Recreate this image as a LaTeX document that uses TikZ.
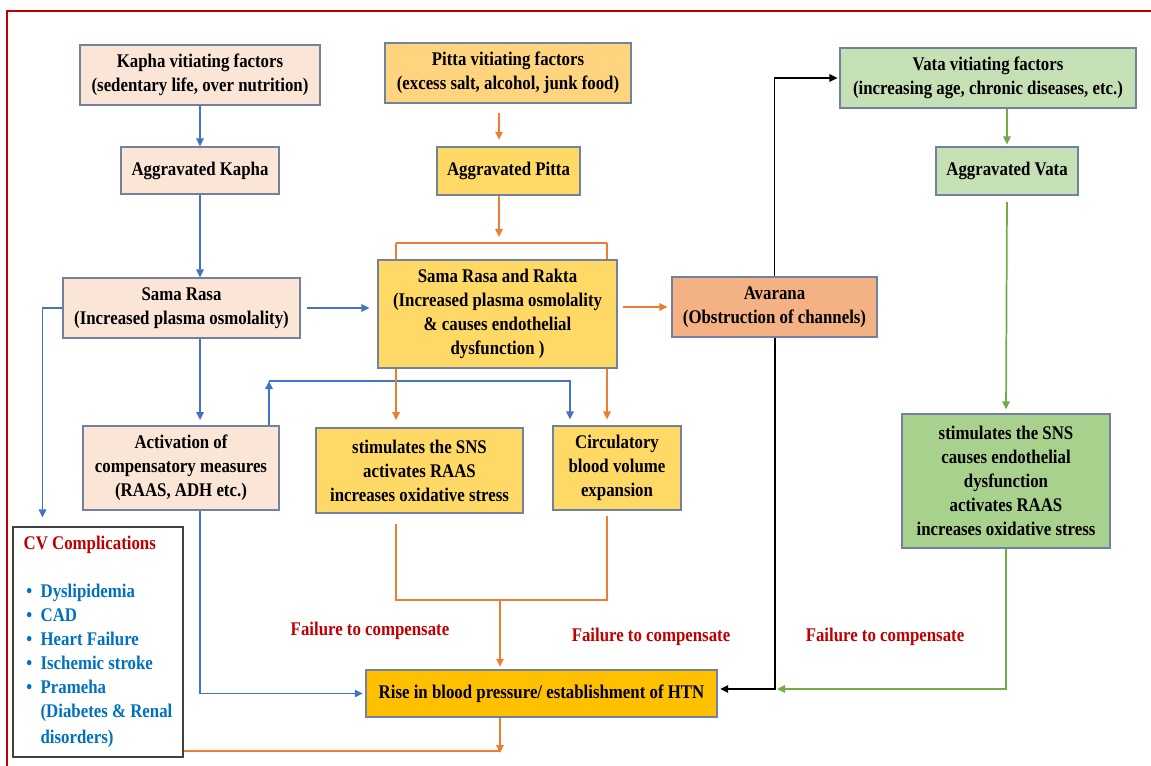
\documentclass[tikz,border=0pt]{standalone}
\usepackage{fontspec}
\setmainfont{Liberation Serif}[FakeStretch=0.87]
\usetikzlibrary{arrows.meta,calc}
\pgfdeclarelayer{bg}
\pgfsetlayers{bg,main}
\definecolor{kfill}{HTML}{FBE5D6}
\definecolor{pfillA}{HTML}{FFD47F}
\definecolor{pfill}{HTML}{FFD966}
\definecolor{rfill}{HTML}{FFC000}
\definecolor{afill}{HTML}{F4B183}
\definecolor{vfill}{HTML}{C5E0B4}
\definecolor{gfill}{HTML}{A9D18E}
\definecolor{bord}{HTML}{7281A0}
\definecolor{cblue}{HTML}{4472C4}
\definecolor{corange}{HTML}{ED7D31}
\definecolor{cgreen}{HTML}{70AD47}
\definecolor{cred}{HTML}{C00000}
\definecolor{itblue}{HTML}{0070C0}
\tikzset{
  box/.style={draw=bord, line width=0.8pt, align=center, inner sep=2pt,
    font=\bfseries\fontsize{14.5}{18}\selectfont},
  tipA/.style={-{Triangle[length=6pt,width=5.5pt]}},
  blueArrow/.style={draw=cblue, line width=1.3pt, tipA},
  orArrow/.style={draw=corange, line width=1.3pt, tipA},
  orLine/.style={draw=corange, line width=1.3pt},
  blkArrow/.style={draw=black, line width=1.3pt, tipA},
  grArrow/.style={draw=cgreen, line width=1.3pt, tipA},
  failLabel/.style={text=cred, font=\bfseries\fontsize{14.5}{18}\selectfont}
}
\newcommand{\bul}{\makebox[12.75pt][l]{\hspace{2pt}\textbullet}}
\newcommand{\nobul}{\makebox[12.75pt][l]{}}
\begin{document}
\begin{tikzpicture}[x=0.75pt,y=-0.75pt]
\useasboundingbox (0,0) rectangle (1151,766);
\draw[cred, line width=1.5pt] (7,766) -- (7,11) -- (1151,11);

% Kapha column
\node[box,fill=kfill,minimum width=180pt,minimum height=45pt] (kf) at (200,75) {Kapha vitiating factors\\(sedentary life, over nutrition)};
\node[box,fill=kfill,minimum width=118.5pt,minimum height=35.25pt] (ak) at (200,170.5) {Aggravated Kapha};
\node[box,fill=kfill,minimum width=177.75pt,minimum height=45pt] (sr) at (181.5,308) {Sama Rasa\\(Increased plasma osmolality)};
\node[box,fill=kfill,minimum width=147pt,minimum height=63pt] (act) at (181,468) {Activation of\\compensatory measures\\(RAAS, ADH etc.)};
\node[box,draw=black!75,fill=white,minimum width=127.5pt,minimum height=172.5pt,align=left] (cv) at (98,642) {%
\textcolor{cred}{CV Complications}\\[18pt]
\textcolor{itblue}{\bul Dyslipidemia}\\
\textcolor{itblue}{\bul CAD}\\
\textcolor{itblue}{\bul Heart Failure}\\
\textcolor{itblue}{\bul Ischemic stroke}\\
\textcolor{itblue}{\bul Prameha}\\
\textcolor{itblue}{\nobul(Diabetes \& Renal}\\[1.5pt]
\textcolor{itblue}{\nobul disorders)}};

% Pitta column
\node[box,fill=pfillA,minimum width=184.5pt,minimum height=45pt] (pf) at (508,73) {Pitta vitiating factors\\(excess salt, alcohol, junk food)};
\node[box,fill=pfill,minimum width=107.25pt,minimum height=36pt] (ap) at (508.5,171) {Aggravated Pitta};
\node[box,fill=pfill,minimum width=179.25pt,minimum height=81pt] (srr) at (497.5,314) {Sama Rasa and Rakta\\(Increased plasma osmolality\\\& causes endothelial\\dysfunction )};
\node[box,fill=pfill,minimum width=155.25pt,minimum height=63.75pt] (sns) at (419.5,470.5) {stimulates the SNS\\activates RAAS\\increases oxidative stress};
\node[box,fill=pfill,minimum width=96pt,minimum height=63pt] (circ) at (617,468) {Circulatory\\blood volume\\expansion};
\node[box,fill=rfill,minimum width=263.25pt,minimum height=35.25pt] (rise) at (541.5,693.5) {Rise in blood pressure/ establishment of HTN};

% Vata column
\node[box,fill=afill,minimum width=153.75pt,minimum height=45pt] (av) at (774.5,307) {Avarana\\(Obstruction of channels)};
\node[box,fill=vfill,minimum width=222pt,minimum height=45pt] (vf) at (988,78) {Vata vitiating factors\\(increasing age, chronic diseases, etc.)};
\node[box,fill=vfill,minimum width=106.5pt,minimum height=36pt] (agv) at (1007,171) {Aggravated Vata};
\node[box,fill=gfill,minimum width=156pt,minimum height=100.5pt] (gs) at (1006,481) {stimulates the SNS\\causes endothelial\\dysfunction\\activates RAAS\\increases oxidative stress};

% labels
\node[failLabel] (f1) at (370,631) {Failure to compensate};
\node[failLabel] (f2) at (651,637) {Failure to compensate};
\node[failLabel] (f3) at (885,637) {Failure to compensate};

% helper coordinates
\coordinate (fa) at (269,381);
\coordinate (fb) at (570,381);
\coordinate (pc) at (499,0);
\coordinate (bk) at (499,243);
\coordinate (bkL) at (396,243);
\coordinate (bkR) at (607,243);
\coordinate (jn) at (500,600);
\coordinate (cvj) at (500,751);
\coordinate (jb) at (775,689);

\begin{pgfonlayer}{bg}
% blue
\draw[blueArrow] (kf) -- (ak);
\draw[blueArrow] (ak) -- (sr.north -| ak);
\draw[blueArrow, shorten <=5pt, shorten >=6pt] (sr.east) -- (srr.west |- sr.east);
\draw[blueArrow] (sr.west) -| ($(cv.north west)+(30,-9)$);
\draw[blueArrow, shorten >=4pt] (sr.south -| ak) -- (act.north -| ak);
\draw[blueArrow] (act.north -| fa) -- (fa);
\draw[blueArrow, shorten >=4.5pt] (fa) -- (fb) -- (circ.north -| fb);
\draw[blueArrow, shorten >=2pt] (act.south -| ak) |- (rise.west);
% orange
\draw[orArrow, shorten <=6.75pt, shorten >=5pt] (pf.south -| pc) -- (ap.north -| pc);
\draw[orArrow, shorten >=4.5pt] (ap.south -| pc) -- (bk);
\draw[orLine] (bkL) -- (bkR);
\draw[orArrow, shorten >=5.5pt] (bkL) -- (sns.north -| bkL);
\draw[orArrow, shorten >=4.5pt] (bkR) -- (circ.north -| bkR);
\draw[orLine] ($(sns.south -| bkL)+(0,10)$) -- (bkL |- jn) -- (bkR |- jn) -- ($(circ.south -| bkR)+(0,5)$);
\draw[orArrow, shorten >=2pt] (jn) -- (rise.north -| jn);
\draw[orArrow, shorten <=3.75pt, shorten >=3pt] (srr.east |- av.west) -- (av.west);
\draw[orArrow] (rise.south -| cvj) -- ($(cvj)+(0,2)$);
\draw[orLine] (cv.east |- cvj) -- (cvj);
% black
\draw[blkArrow, shorten >=1.5pt] (av.north) |- (vf.west);
\draw[blkArrow, shorten >=2pt] (av.south -| jb) -- (jb) -- (rise.east |- jb);
% green
\draw[grArrow, shorten >=1.5pt] (vf.south -| agv) -- (agv.north);
\draw[grArrow, shorten <=5pt, shorten >=3pt] (agv.south) -- (gs.north);
\draw[grArrow, shorten >=1.5pt] (gs.south) |- (jb);
\end{pgfonlayer}
\end{tikzpicture}
\end{document}
